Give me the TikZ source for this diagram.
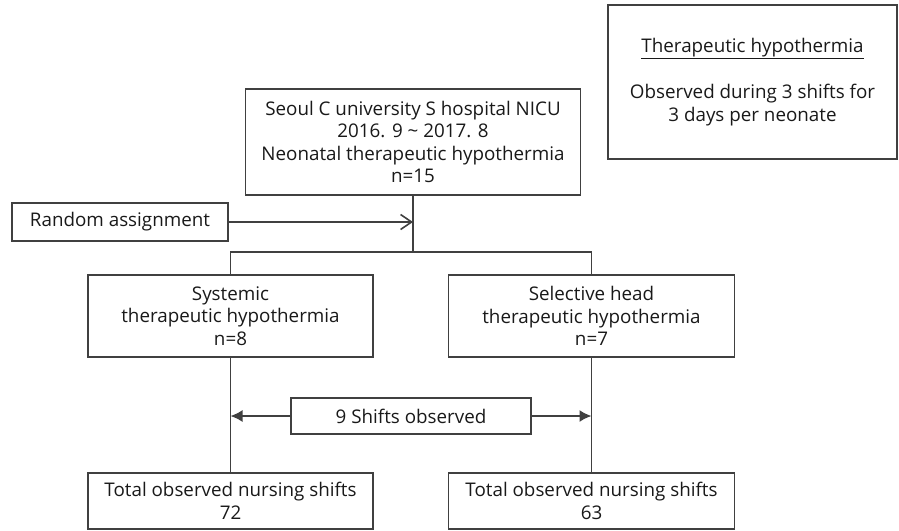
\documentclass[tikz,border=0pt]{standalone}
\usepackage{fontspec}
\setmainfont{Open Sans}
\usetikzlibrary{arrows.meta,positioning,calc}
\definecolor{linegray}{HTML}{404040}

\begin{document}
\begin{tikzpicture}[x=1pt,y=-1pt,
  box/.style={draw=linegray, line width=1.6pt, align=center, inner sep=0pt,
    font=\fontsize{18.8}{22.5}\selectfont, text=black!90},
  link/.style={draw=linegray, line width=1.6pt},
  openarrow/.style={link, -{Straight Barb[length=11pt,width=15pt]}},
  fillarrow/.style={link, -{Latex[length=12pt,width=12pt]}}]
\useasboundingbox (0,0) rectangle (899,530);

% Side note (upper right)
\node[box, minimum width=289pt, minimum height=154pt] (note) at (752.5,82)
  {\underline{Therapeutic hypothermia}\\[24pt]
   Observed during 3 shifts for\\3 days per neonate};

% Cohort and assignment
\node[box, minimum width=335pt, minimum height=106pt] (cohort) at (413,142)
  {Seoul C university S hospital NICU\\2016. 9 \textasciitilde{} 2017. 8\\
   Neonatal therapeutic hypothermia\\n=15};
\node[box, minimum width=216pt, minimum height=38pt] (random) at (120,222)
  {Random assignment};

% Two groups
\node[box, minimum width=285pt, minimum height=82pt] (systemic) at (230.5,316)
  {Systemic\\therapeutic hypothermia\\n=8};
\node[box, minimum width=286pt, minimum height=82pt] (selective) at (591.5,316)
  {Selective head\\therapeutic hypothermia\\n=7};

% Observation
\node[box, minimum width=240pt, minimum height=36pt] (shifts) at (411,416)
  {9 Shifts observed};
\node[box, minimum width=285pt, minimum height=56pt] (totalsys) at (230.5,501)
  {Total observed nursing shifts\\72};
\node[box, minimum width=286pt, minimum height=56pt] (totalsel) at (591.5,501)
  {Total observed nursing shifts\\63};

% Split below the cohort
\coordinate (split) at ($(cohort.south)+(0,56)$);
\coordinate (join) at (cohort.south |- random.east);
\draw[link] (cohort.south) -- (split);
\draw[openarrow] (random.east) -- (join);
\draw[link] (systemic.north) -- (systemic.north |- split) -- (selective.north |- split) -- (selective.north);

% Group to total
\draw[link] (systemic.south) -- (totalsys.north);
\draw[link] (selective.south) -- (totalsel.north);
\draw[fillarrow] (shifts.west) -- (systemic.south |- shifts.west);
\draw[fillarrow] (shifts.east) -- (selective.south |- shifts.east);

\end{tikzpicture}
\end{document}
